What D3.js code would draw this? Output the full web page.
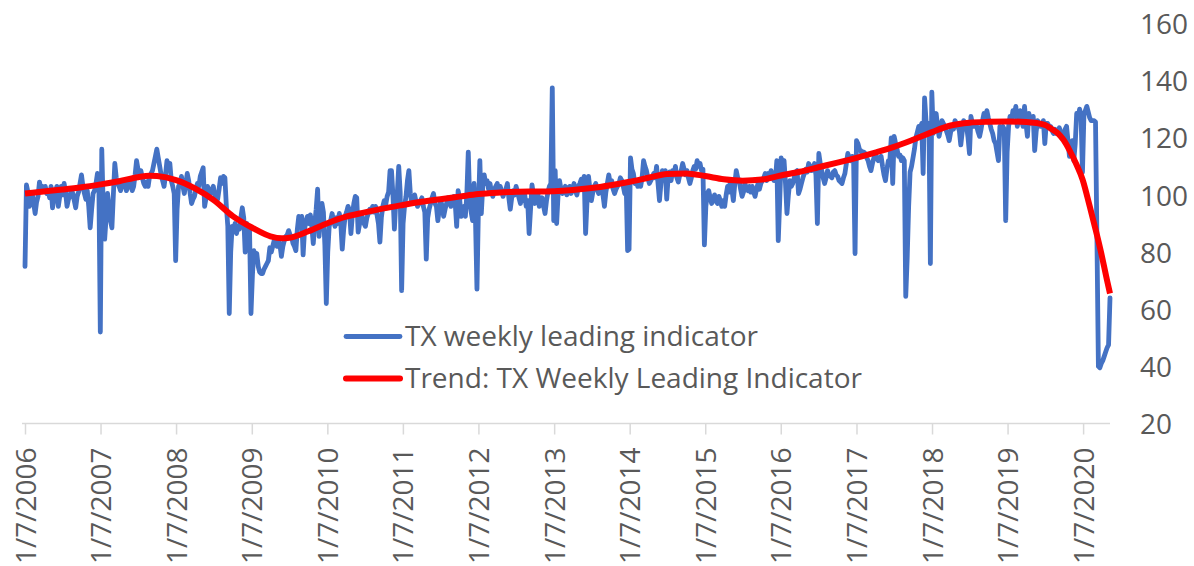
<!DOCTYPE html>
<html>
<head>
<meta charset="utf-8">
<title>TX weekly leading indicator</title>
<script src="https://cdn.jsdelivr.net/npm/d3@7"></script>
<style>
    body { margin: 0; background: #fff; }
    svg { display: block; }
    text { font-family: "Open Sans", sans-serif; fill: #595959; }
</style>
</head>
<body>
<svg id="chart" width="1194" height="566"></svg>
<script>
// weekly values, one array per year (first week ends 1/7/2006)
var w2006 = [75,103.5,101,96,99,100.5,97,93.5,97.5,99.5, 104.5,102,103,101.5,103,100.5,101.5,99,103,95.5,
    99,101,103,96,99.5,103,100,104,101,96, 98.5,99.5,102,100.5,98,95.5,99.5,101,104,107,
    103,100.5,98.5,101.5,96,88.5,95,100.5,101.5,104, 107.5,103];
var w2007 = [52,116,96,84.5,92,100.5,96,91,88.5,100, 111,106,104,103,101.5,104,105,103.5,101.5,103,
    105,104,101.5,103,107,112,109,107.5,108.5,106, 104,103,104.5,103,106.5,107.5,108.5,111,113.5,116,
    113,110,107,105,103,107,112,110,111,105, 103,100.5];
var w2008 = [77,95,103,104,106.5,103,100.5,104,107.5,105, 100.5,97,98.5,99.5,102,104,103,106.5,108,109.5,
    96,99,103,101,100.5,102,103,100,98,98.5, 102,106,104,106.5,106,96,89,58.5,80,89,
    87.5,90,86.5,89,88,92,95.5,92,80,90, 83,88];
var w2009 = [58.5,72,80.5,78,79.5,75,73,72.5,72.5,74, 75,76,77,81.5,80,82,84,83,82,84,
    82.5,78.5,82,84,85.5,86,87.5,86,85.5,83, 82,80.5,88,92.5,91,92.5,79,88,91,92.5,
    90,93,89,83,90,95,102,85.5,93,97, 94,82.5];
var w2010 = [62,80,89,91,93.5,91,89,92,90,93.5, 90,81,88,92.5,94,96,94.5,86.5,93,97,
    99.5,99,87,90,93,92,90,89,92,93.5, 95,94,96,94,96,93,90,83.5,92,96,
    98,96.5,99.5,101,108.5,108.5,100,88,98,100.5, 110,101];
var w2011 = [66.5,90,96,99.5,105,108.5,100.5,97,98,100, 97.5,96,97,98,99,96,94,77.5,92,95,
    97,99,100.5,97,96,91,95,98,96,92.5, 95,97,99,98,96,98,99.5,97,89,101.5,
    99,92.5,94,96,92.5,100,115,98,94,91, 104,91,67];
var w2012 = [95,112,93.5,103,107,104,105,102,104,101, 99.5,102,103,104,101,103,101.5,99.5,101,102,
    104,99,95,99,101.5,100,103,101,99,97, 100,98,100,96,98,86.5,95,103.5,100,97,
    99,101,96,98,99,96,93.5,98,101,103, 104,137.5];
var w2013 = [91,108.5,90,100,105,102,100.5,102,103,100, 101.5,103,100.5,102,104,101.5,100,103,104,105.5,
    103,106.5,86.5,98,106.5,102,98,101,103,104, 102,100.5,101,103,100,96,101,104,107,104,
    105,102,100.5,102,103,104,106,105,103,100.5, 104,80.5];
var w2014 = [81,113,109,107.5,104,105,103,104,103,106, 112,110,108.5,106,104,105,106,107.5,106,110,
    104,98,104,108.5,106,108.5,98.5,106.5,108,105, 108.5,107,110,106,104.5,107,108.5,111,109,107,
    108.5,106,104,106,108.5,110,109,112,110,111, 108.5,109];
var w2015 = [82.5,96,100.5,101.5,99,97,98,100,98,97, 99.5,98,96,98,96,100,103,101,105,102,
    98,104,108.5,106,105,102,99.5,101,104,102, 101.5,103,101,103,101,99.5,102,104,102,104,
    105,106,107.5,105,107.5,106,108.5,107,105,105, 112,84];
var w2016 = [98,113,110,112,104,93.5,100,105,103,104, 106,108,108.5,100.5,102,104,106,107.5,109,108,
    111,110,108.5,109,111,107,90,114.5,111,108.5, 106,104,106,108.5,107,106.5,106,108,108.5,107,
    106.5,105,104.5,104,106,107.5,111,114.5,113,112, 113.5,112,79.5];
var w2017 = [119,118,116,115.5,114,115,114.5,113,112,110, 108.5,111,113,114.5,113,112,113,113.5,110,107,
    105,109,112,112,120,104,120.5,118,116,113.5, 114,112,113,112,64.5,78,96,108,110,113,
    116,120,122,124,123,125,107.5,134,126,123, 125,76];
var w2018 = [136,121.5,126,128.5,124,120.5,123,126,125,124, 122.5,121,119,122,124,123,126,125,124,122.5,
    117.5,122,126,125,124,120,114.5,127.5,125,124, 125,124,122,120.5,123,126,128.5,127,129.5,127,
    125,123,121.5,119,118,115,112,124,122,124, 123,91];
var w2019 = [115,124,127.5,126,129.5,128,131,124,127,129.5, 126,124,131,125,120.5,128.5,126,125,127.5,115.5,
    122,126,125,124,124,126,118,125,125,124, 124,122.5,121.5,123,121.5,122,123.5,122,121.5,120,
    123,124,119,113.5,116,119,112,118,128.5,127, 130,128];
var w2020 = [108,128,129.5,131,129,127,126,126,126,125.5, 84,40,39.5,41,42,43.5,45,46.5,47.5,64];

// trend series (smooth line)
var trendDates = ["2006-01-07","2006-04-07","2006-07-07","2006-10-07",
    "2007-01-07","2007-04-07","2007-07-07","2007-09-01","2007-10-07",
    "2008-01-07","2008-04-07","2008-07-07","2008-10-07",
    "2009-01-07","2009-04-07","2009-06-01","2009-07-07","2009-10-07",
    "2010-01-07","2010-04-07","2010-07-07","2010-10-07",
    "2011-01-07","2011-04-07","2011-07-07","2011-10-07",
    "2012-01-07","2012-04-07","2012-07-07","2012-10-07",
    "2013-01-07","2013-04-07","2013-07-07","2013-10-07",
    "2014-01-07","2014-04-07","2014-07-07","2014-10-07",
    "2015-01-07","2015-04-07","2015-07-07","2015-10-07",
    "2016-01-07","2016-04-07","2016-07-07","2016-10-07",
    "2017-01-07","2017-04-07","2017-07-07","2017-10-07",
    "2018-01-07","2018-04-07","2018-07-07","2018-10-07",
    "2019-01-07","2019-04-07","2019-07-06","2019-08-03","2019-09-07","2019-10-05","2019-11-02","2019-12-07",
    "2020-01-04","2020-02-08","2020-03-07","2020-04-04","2020-05-02","2020-05-16"];
var trendValues = [100.5,101.2,101.9,102.7,
    103.7,104.8,106.2,106.7,106.6,
    105.2,102.3,98.2,92.6,
    88.6,85.5,84.8,85.0,87.3,
    90.1,92.4,93.9,95.3,
    96.5,97.6,98.5,99.4,
    100.3,100.8,101.1,101.2,
    101.3,101.7,102.4,103.4,
    104.6,106.0,107.3,107.5,
    106.6,105.5,105.0,105.4,
    106.8,108.1,109.7,111.3,
    113.0,114.8,116.8,119.3,
    122.0,124.3,125.3,125.6,
    125.7,125.5,124.5,123.3,121.6,119.2,115.7,110.5,
    105.5,96,88,79.5,70,65.5];

var tickYears = [2006,2007,2008,2009,2010,2011,2012,2013,2014,2015,2016,2017,2018,2019,2020];
var yTicks = [20,40,60,80,100,120,140,160];
var seriesNames = ["TX weekly leading indicator", "Trend: TX Weekly Leading Indicator"];

// build the weekly table
var weeklyValues = [].concat(w2006,w2007,w2008,w2009,w2010,w2011,w2012,w2013,w2014,w2015,w2016,w2017,w2018,w2019,w2020);
var weekly = weeklyValues.map(function(v, i) {
    return { date: new Date(2006, 0, 7 + 7 * i), value: v };
});
var parseDate = d3.timeParse("%Y-%m-%d");
var trend = trendDates.map(function(d, i) {
    return { date: parseDate(d), value: trendValues[i] };
});

var svg = d3.select("#chart");

var x = d3.scaleTime()
    .domain([new Date(2006, 0, 7), weekly[weekly.length - 1].date])
    .range([25, 1110]);
var y = d3.scaleLinear()
    .domain([20, 160])
    .range([423.5, 23.5]);

// x axis
var xAxis = d3.axisBottom(x)
    .tickValues(tickYears.map(function(yr) { return new Date(yr, 0, 7); }))
    .tickSize(11)
    .tickFormat(function(d) { return "1/7/" + d.getFullYear(); });

var gx = svg.append("g")
    .attr("transform", "translate(0," + y(20) + ")")
    .call(xAxis);
gx.select(".domain").attr("stroke", "#d9d9d9").attr("stroke-width", 1.5)
    .attr("d", "M22,0H1110");
gx.selectAll(".tick line").attr("stroke", "#d9d9d9").attr("stroke-width", 1.5);
gx.selectAll(".tick text")
    .attr("font-size", 28)
    .attr("font-family", "Open Sans, sans-serif")
    .attr("fill", "#595959")
    .attr("text-anchor", "end")
    .attr("transform", "translate(0,24) rotate(-90)")
    .attr("x", 0)
    .attr("y", 0)
    .attr("dy", "0.36em");

// y axis on the right, labels only
var yAxis = d3.axisRight(y).tickValues(yTicks).tickSize(0).tickPadding(0);
var gy = svg.append("g")
    .attr("transform", "translate(1140,0)")
    .call(yAxis);
gy.select(".domain").remove();
gy.selectAll(".tick text")
    .attr("font-size", 28)
    .attr("font-family", "Open Sans, sans-serif")
    .attr("fill", "#595959")
    .attr("dy", "0.36em");

// lines
var line = d3.line()
    .x(function(d) { return x(d.date); })
    .y(function(d) { return y(d.value); });

svg.append("path")
    .datum(weekly)
    .attr("fill", "none")
    .attr("stroke", "#4472c4")
    .attr("stroke-width", 4.8)
    .attr("stroke-linejoin", "round")
    .attr("stroke-linecap", "round")
    .attr("d", line);

svg.append("path")
    .datum(trend)
    .attr("fill", "none")
    .attr("stroke", "#ff0000")
    .attr("stroke-width", 6)
    .attr("stroke-linejoin", "round")
    .attr("d", line.curve(d3.curveMonotoneX));

// legend
var legendColors = ["#4472c4", "#ff0000"];
var legend = svg.append("g").selectAll("g")
    .data(seriesNames)
    .enter().append("g")
    .attr("transform", function(d, i) { return "translate(346," + (336.5 + i * 42) + ")"; });
legend.append("line")
    .attr("x1", 0).attr("x2", 54)
    .attr("stroke", function(d, i) { return legendColors[i]; })
    .attr("stroke-width", function(d, i) { return i ? 6 : 4.8; })
    .attr("stroke-linecap", "round");
legend.append("text")
    .attr("x", 59)
    .attr("y", 0)
    .attr("dy", "0.35em")
    .attr("font-size", 28)
    .text(function(d) { return d; });
</script>
</body>
</html>
